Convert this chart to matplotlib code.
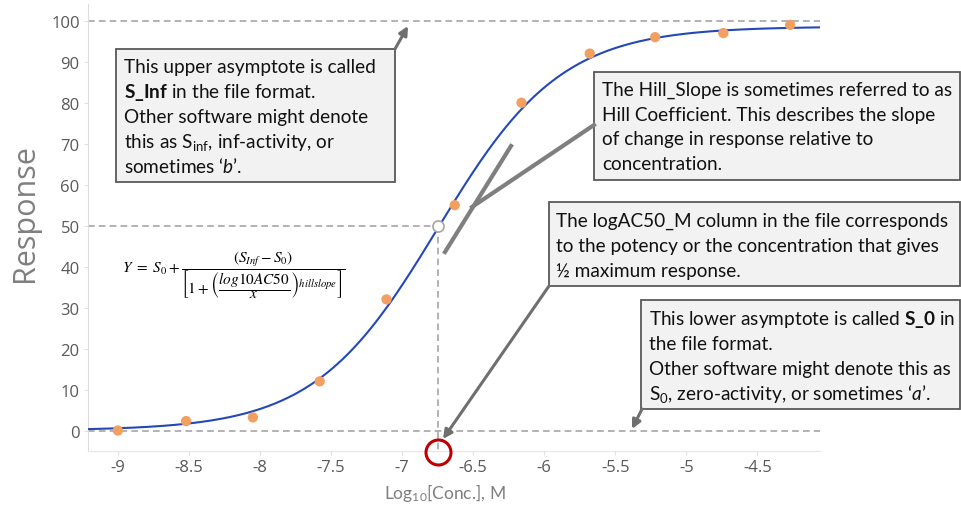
import numpy as np
import matplotlib
matplotlib.use('Agg')
import matplotlib.pyplot as plt
from matplotlib.patches import Rectangle, FancyArrowPatch
from matplotlib.lines import Line2D

plt.rcParams['font.family'] = ['Lato', 'DejaVu Sans']
plt.rcParams['mathtext.fontset'] = 'custom'
plt.rcParams['mathtext.rm'] = 'Lato'
plt.rcParams['mathtext.it'] = 'Lato:italic'
plt.rcParams['mathtext.bf'] = 'Lato:bold'
plt.rcParams['axes.unicode_minus'] = False

# measured points
log_conc = [-9.0, -8.52, -8.05, -7.58, -7.11, -6.63, -6.16, -5.68, -5.22, -4.74, -4.27]
response = [0.0, 2.3, 3.2, 12.0, 32.0, 55.0, 80.0, 92.0, 96.0, 97.0, 99.0]

# fitted Hill parameters
s_0 = 0.0
s_inf = 98.6
log_ac50 = -6.75
hill_slope = 1.0

x_ticks = [-9, -8.5, -8, -7.5, -7, -6.5, -6, -5.5, -5, -4.5]
y_ticks = [0, 10, 20, 30, 40, 50, 60, 70, 80, 90, 100]

W, H = 961, 506
def fx(x): return x / W
def fy(y): return 1 - y / H

fig = plt.figure(figsize=(W / 100, H / 100), dpi=100)
ax = fig.add_axes([fx(88), fy(452), (820 - 88) / W, (452 - 5) / H])

xs = np.linspace(-9.21, -4.06, 400)
ys = s_0 + (s_inf - s_0) / (1 + 10 ** ((log_ac50 - xs) * hill_slope))

dash = dict(color='#a6a6a6', lw=1.2, ls=(0, (4, 2.5)))
ax.axhline(100, **dash, zorder=1)
ax.axhline(s_0, **dash, zorder=1)
ax.plot([-9.21, log_ac50], [50, 50], **dash, zorder=1)
ax.plot([log_ac50, log_ac50], [50, -5], **dash, zorder=1)

ax.plot(xs, ys, color='#2448b8', lw=1.5, zorder=3)
ax.scatter(log_conc, response, s=55, color='#f2a062', edgecolor='none', zorder=4)
ax.plot([log_ac50], [50], marker='o', ms=8, mfc='white', mec='#a6a6a6', mew=1.2, zorder=5)
ax.plot([log_ac50], [-5.2], marker='o', ms=18, mfc='none', mec='#c00000', mew=2.2,
        clip_on=False, zorder=6)

ax.set_xlim(-9.21, -4.06)
ax.set_ylim(-5, 104.1)
ax.set_xticks(x_ticks)
ax.set_xticklabels(['%g' % t for t in x_ticks])
ax.set_yticks(y_ticks)
ax.set_yticklabels(['%g' % t for t in y_ticks])
ax.tick_params(axis='both', colors='#e0e0e0', labelcolor='#595959', labelsize=12, length=3, pad=3)
for lab in ax.get_xticklabels() + ax.get_yticklabels():
    lab.set_fontfamily('Open Sans')
for s in ['top', 'right']:
    ax.spines[s].set_visible(False)
ax.spines['left'].set_color('#dcdcdc')
ax.spines['bottom'].set_color('#e6e6e6')

fig.text(fx(25), fy(213), 'Response', fontsize=22, color='#7f7f7f', family='Open Sans',
         rotation=90, ha='center', va='center')
fig.text(fx(445), fy(493), r'Log$_{10}$[Conc.], M', fontsize=12.5, color='#7f7f7f',
         ha='center', va='center')

# formula
fig.text(fx(122), fy(275),
         r'$Y\ =\ S_0 + \dfrac{(S_{Inf} - S_0)}{\left[1 + \left(\dfrac{log10AC50}{x}\right)^{hillslope}\right]}$',
         fontsize=11, math_fontfamily='stix', va='center', ha='left')

# annotation boxes: (x0, y0, x1, y1), text left, line centres, lines
boxes = [
    ((116, 50, 395, 183), 124, [66, 91, 116, 141, 166],
     ['This upper asymptote is called',
      r'$\mathbf{S\_Inf}$ in the file format.',
      'Other software might denote',
      r'this as S$_{\mathrm{inf}}$, inf-activity, or',
      r'sometimes $\mathit{‘b’}$.']),
    ((594, 73, 960, 181), 602, [89, 114, 138, 163],
     ['The Hill_Slope is sometimes referred to as',
      'Hill Coefficient. This describes the slope',
      'of change in response relative to',
      'concentration.']),
    ((549, 203, 960, 287), 556, [220, 245, 270],
     ['The logAC50_M column in the file corresponds',
      'to the potency or the concentration that gives',
      '½ maximum response.']),
    ((641, 301, 960, 410), 649, [318, 343, 368, 393],
     [r'This lower asymptote is called $\mathbf{S\_0}$ in',
      'the file format.',
      'Other software might denote this as',
      r'S$_0$, zero-activity, or sometimes $\mathit{‘a’}$.']),
]
for (x0, y0, x1, y1), tx, centres, lines in boxes:
    fig.add_artist(Rectangle((fx(x0), fy(y1)), (x1 - x0) / W, (y1 - y0) / H,
                             transform=fig.transFigure, facecolor='#f2f2f2',
                             edgecolor='#595959', lw=1.3, zorder=7))
    for c, t in zip(centres, lines):
        fig.text(fx(tx), fy(c + 7), t, fontsize=13.7, color='#111111',
                 va='baseline', ha='left', zorder=8)

# arrows
arrow_kw = dict(arrowstyle='-|>', mutation_scale=13, color='#6f6f6f', lw=2.2,
                transform=fig.transFigure, zorder=9, shrinkA=0, shrinkB=0)
for (a, b) in [((395, 50), (408, 27)), ((549, 287), (443, 440)), ((642, 410), (632, 430))]:
    fig.add_artist(FancyArrowPatch((fx(a[0]), fy(a[1])), (fx(b[0]), fy(b[1])), **arrow_kw))

# slope marker lines
for (a, b) in [((511, 147), (445, 253)), ((594, 126), (472, 208))]:
    fig.add_artist(Line2D([fx(a[0]), fx(b[0])], [fy(a[1]), fy(b[1])], color='#7f7f7f',
                          lw=3, transform=fig.transFigure, zorder=9))

fig.savefig('out.png', dpi=100)
